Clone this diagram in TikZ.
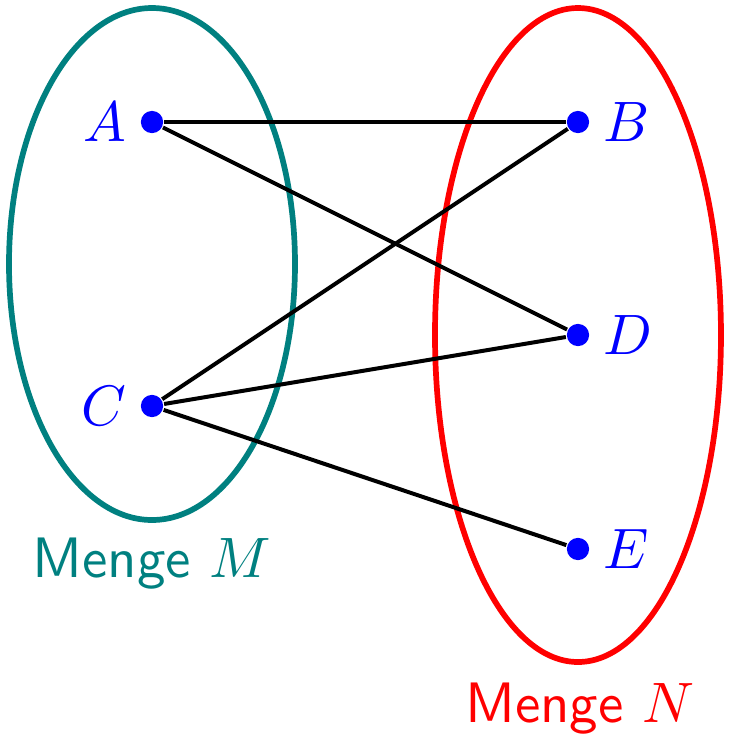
\documentclass[tikz,border=0pt]{standalone}
\begin{document}
\begin{tikzpicture}[x=0.1754pt,y=-0.1754pt,
  pt/.style={circle,fill=blue,inner sep=0pt,minimum size=3.9pt},
  lbl/.style={text=blue,label distance=-1.2pt},
  edge/.style={line width=0.7pt,black}]
\useasboundingbox (0,0) rectangle (737,737);
\draw[teal,line width=1pt] (152,264) ellipse [x radius=143,y radius=256];
\draw[red,line width=1pt] (578,335) ellipse [x radius=143,y radius=327];
\node[pt,label={[lbl]left:$A$}] (A) at (152,122) {};
\node[pt,label={[lbl]left:$C$}] (C) at (152,406) {};
\node[pt,label={[lbl]right:$B$}] (B) at (578,122) {};
\node[pt,label={[lbl]right:$D$}] (D) at (578,335) {};
\node[pt,label={[lbl]right:$E$}] (E) at (578,549) {};
\draw[edge] (A) -- (B);
\draw[edge] (A) -- (D);
\draw[edge] (C) -- (B);
\draw[edge] (C) -- (D);
\draw[edge] (C) -- (E);
\node[text=teal,anchor=base] (LM) at (152,577) {\textsf{Menge} $M$};
\node[text=red,anchor=base] (LN) at (580,722) {\textsf{Menge} $N$};
\end{tikzpicture}
\end{document}
